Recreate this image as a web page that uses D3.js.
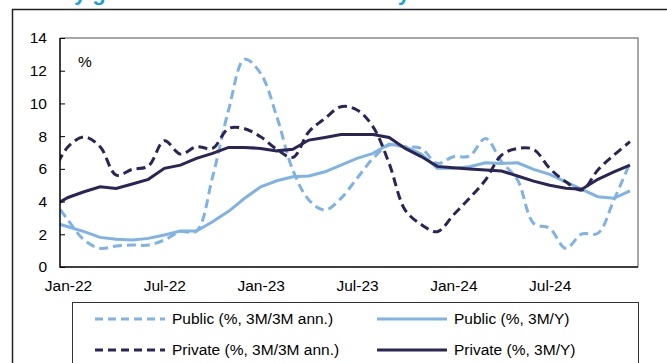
<!DOCTYPE html>
<html>
<head>
<meta charset="utf-8">
<script src="https://cdn.jsdelivr.net/npm/d3@7"></script>
<style>
  body { margin: 0; background: #fff; }
  svg text { font-family: "Liberation Sans", Arial, sans-serif; }
</style>
</head>
<body>
<svg id="chart" width="667" height="363"></svg>
<script>
// Monthly observations, Dec-21 through Dec-24 (the Dec-21 point sits just left of the axis and is clipped)
const monthDates = d3.timeMonth.range(new Date(2021, 11, 1), new Date(2025, 0, 1));

// Growth rates, %
const publicMM  = [4.2, 2.87, 1.65, 1.14, 1.28, 1.34, 1.34, 1.65, 2.16, 2.2, 5.5, 9.6, 12.7, 11.83, 9.2, 5.93, 4.1, 3.48, 4.2, 5.42, 6.64, 7.45, 7.35, 7.25, 6.33, 6.74, 6.78, 7.86, 6.44, 5.32, 2.67, 2.36, 1.14, 2.02, 2.06, 4.1, 6.37];
const publicYY  = [2.75, 2.46, 2.16, 1.81, 1.69, 1.65, 1.75, 1.96, 2.2, 2.2, 2.77, 3.4, 4.2, 4.9, 5.27, 5.52, 5.56, 5.82, 6.23, 6.64, 6.95, 7.52, 7.35, 6.9, 6.03, 6.03, 6.13, 6.37, 6.33, 6.37, 5.97, 5.66, 5.21, 4.75, 4.3, 4.2, 4.66];
const privateMM = [5.6, 7.35, 7.95, 7.35, 5.62, 5.97, 6.17, 7.72, 6.9, 7.35, 7.25, 8.47, 8.45, 7.96, 7.2, 6.7, 8.27, 9.08, 9.8, 9.6, 8.57, 6.33, 3.48, 2.6, 2.16, 3.18, 4.2, 5.32, 6.84, 7.25, 7.19, 6.03, 5.21, 4.7, 5.93, 6.84, 7.66];
const privateYY = [3.7, 4.25, 4.6, 4.9, 4.8, 5.07, 5.36, 6.03, 6.23, 6.64, 6.95, 7.31, 7.31, 7.25, 7.1, 7.2, 7.76, 7.92, 8.1, 8.1, 8.1, 7.92, 7.25, 6.75, 6.15, 6.07, 5.99, 5.93, 5.87, 5.56, 5.25, 5.0, 4.81, 4.75, 5.36, 5.82, 6.23];

// Axis labels
const xTickLabels = ["Jan-22", "Jul-22", "Jan-23", "Jul-23", "Jan-24", "Jul-24"];
const xTickMonths = [0, 6, 12, 18, 24, 30];
const yTickValues = [0, 2, 4, 6, 8, 10, 12, 14];

const seriesLabels = ["Public (%, 3M/3M ann.)", "Public (%, 3M/Y)", "Private (%, 3M/3M ann.)", "Private (%, 3M/Y)"];

const LIGHT = "#7fb2e5";
const NAVY = "#2b2557";

const series = [
  { name: seriesLabels[0], values: publicMM,  color: LIGHT, dashed: true },
  { name: seriesLabels[1], values: publicYY,  color: LIGHT, dashed: false },
  { name: seriesLabels[2], values: privateMM, color: NAVY,  dashed: true },
  { name: seriesLabels[3], values: privateYY, color: NAVY,  dashed: false }
];

const svg = d3.select("#chart");
const plot = { left: 60, right: 638, top: 38, bottom: 267 };
const FONT = "15.5px";

// month index relative to Jan-22; each month occupies one slot, centred
const monthIndex = d => (d.getFullYear() - 2022) * 12 + d.getMonth();
const x = d3.scaleLinear().domain([-0.5, 35.5]).range([plot.left, plot.right]);
const y = d3.scaleLinear().domain([0, 14]).range([plot.bottom, plot.top]);

// Headline, mostly above the top edge
svg.append("text")
  .attr("x", 14).attr("y", -0.5)
  .attr("font-size", "22px").attr("font-weight", "bold")
  .attr("fill", "#17a0e3")
  .text("Steady growth in the overall economy");

// Outer panel border
svg.append("path")
  .attr("d", "M12.5,380 V9.5 H690")
  .attr("fill", "none").attr("stroke", "#222").attr("stroke-width", 1.5);

// Plot clipping
svg.append("defs").append("clipPath").attr("id", "plotClip")
  .append("rect")
  .attr("x", plot.left).attr("y", plot.top)
  .attr("width", plot.right - plot.left).attr("height", plot.bottom - plot.top);

// Frame: grey top/right, black left/bottom
svg.append("path")
  .attr("d", `M${plot.left},${plot.top} H${plot.right} V${plot.bottom}`)
  .attr("fill", "none").attr("stroke", "#8a8a8a").attr("stroke-width", 1.5);

// Lines
const lineLinear = d3.line()
  .x(d => x(d.m)).y(d => y(d.v));
const lineSmooth = d3.line()
  .x(d => x(d.m)).y(d => y(d.v))
  .curve(d3.curveCatmullRom.alpha(0.5));

const lines = svg.append("g").attr("clip-path", "url(#plotClip)");
lines.selectAll("path")
  .data(series)
  .join("path")
  .attr("fill", "none")
  .attr("stroke", s => s.color)
  .attr("stroke-width", 3)
  .attr("stroke-dasharray", s => s.dashed ? "9,5" : null)
  .attr("d", s => {
    const pts = s.values.map((v, i) => ({ m: monthIndex(monthDates[i]), v }));
    return (s.dashed ? lineSmooth : lineLinear)(pts);
  });

// Y axis labels
const yAxis = svg.append("g")
  .attr("transform", `translate(${plot.left},0)`)
  .call(d3.axisLeft(y).tickValues(yTickValues).tickSize(0).tickPadding(13));
yAxis.select(".domain").remove();
yAxis.selectAll("text").attr("font-size", FONT).attr("font-family", "Liberation Sans, Arial, sans-serif").attr("fill", "#000");

// Inward tick marks on the y axis
const yTicksIn = svg.append("g")
  .attr("transform", `translate(${plot.left},0)`)
  .call(d3.axisRight(y).tickValues(yTickValues).tickSize(5).tickFormat(""));
yTicksIn.select(".domain").remove();
yTicksIn.selectAll("line").attr("stroke", "#000").attr("stroke-width", 1);

// X axis labels
const xAxis = svg.append("g")
  .attr("transform", `translate(0,${plot.bottom})`)
  .call(d3.axisBottom(x).tickValues(xTickMonths).tickSize(0).tickPadding(13)
    .tickFormat((d, i) => xTickLabels[i]));
xAxis.select(".domain").remove();
xAxis.selectAll("text").attr("font-size", FONT).attr("font-family", "Liberation Sans, Arial, sans-serif").attr("fill", "#000");

// Left and bottom axis lines
svg.append("path")
  .attr("d", `M${plot.left},${plot.top} V${plot.bottom} H${plot.right}`)
  .attr("fill", "none").attr("stroke", "#000").attr("stroke-width", 1.5);

// Unit label
svg.append("text")
  .attr("x", 78).attr("y", 67)
  .attr("font-size", FONT).attr("fill", "#000")
  .text("%");

// Legend
const legend = svg.append("g");
legend.append("rect")
  .attr("x", 72.5).attr("y", 302.5).attr("width", 566).attr("height", 100)
  .attr("fill", "#fff").attr("stroke", "#333").attr("stroke-width", 1);

const legendPos = [
  { lx: 95, ty: 319 }, { lx: 377, ty: 319 },
  { lx: 95, ty: 350 }, { lx: 377, ty: 350 }
];
const items = legend.selectAll("g.item")
  .data(series)
  .join("g").attr("class", "item")
  .attr("transform", (d, i) => `translate(${legendPos[i].lx},${legendPos[i].ty})`);
items.append("line")
  .attr("x1", 0).attr("x2", 70).attr("y1", 0).attr("y2", 0)
  .attr("stroke", d => d.color).attr("stroke-width", 3)
  .attr("stroke-dasharray", d => d.dashed ? "8,5" : null);
items.append("text")
  .attr("x", 77).attr("y", 0).attr("dy", "0.35em")
  .attr("font-size", FONT).attr("fill", "#000")
  .text(d => d.name);
</script>
</body>
</html>
